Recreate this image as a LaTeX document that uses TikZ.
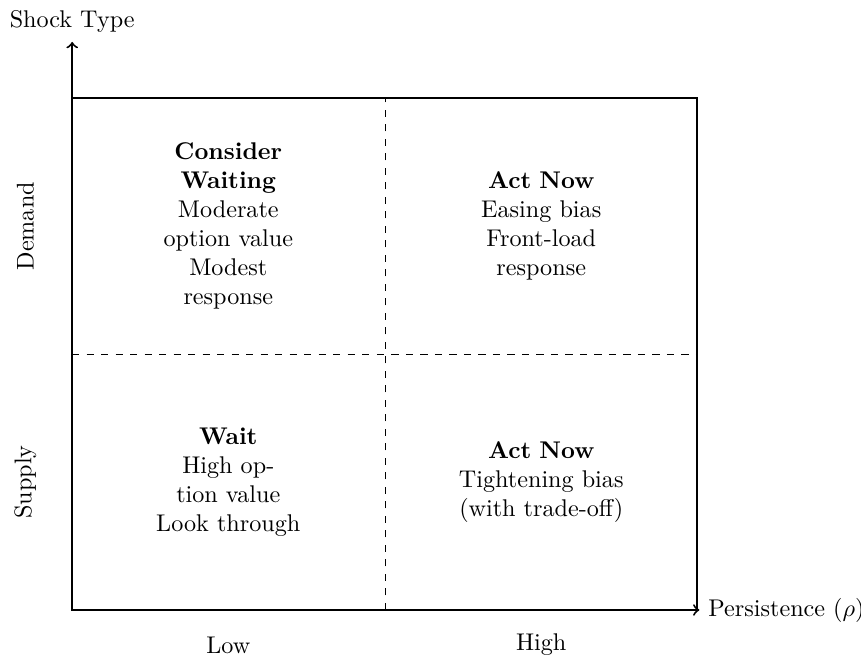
\documentclass[tikz,border=0pt]{standalone}
\usepackage{amsmath,amssymb}
\begin{document}
\begin{tikzpicture}[cell/.style={align=center,text width=2.4cm}]
\useasboundingbox (-1.05,-0.68) rectangle (11.47,8.87);
% axes
\draw[thick,->] (0,0)--(9.12,0) node[right]{Persistence ($\rho$)};
\draw[thick,->] (0,0)--(0,8.26) node[above]{Shock Type};
% frame and quadrants
\draw[thick] (0,0) rectangle (9.08,7.44);
\draw[dashed] (4.55,0)--(4.55,7.44);
\draw[dashed] (0,3.72)--(9.08,3.72);
\node[cell] (dlow) at (2.27,5.58) {\textbf{Consider Waiting}\\Moderate option value\\Modest response};
\node[cell] (dhigh) at (6.82,5.58) {\textbf{Act Now}\\Easing bias\\Front-load response};
\node[cell] (slow) at (2.27,1.86) {\textbf{Wait}\\High option value\\Look through};
\node[cell] (shigh) at (6.82,1.86) {\textbf{Act Now}\\Tightening bias\\(with trade-off)};
% axis labels
\node[rotate=90] (dem) at (-0.68,5.58) {Demand};
\node[rotate=90] (sup) at (-0.68,1.86) {Supply};
\node (low) at (2.27,-0.51) {Low};
\node (high) at (6.82,-0.51) {High};
\end{tikzpicture}
\end{document}
